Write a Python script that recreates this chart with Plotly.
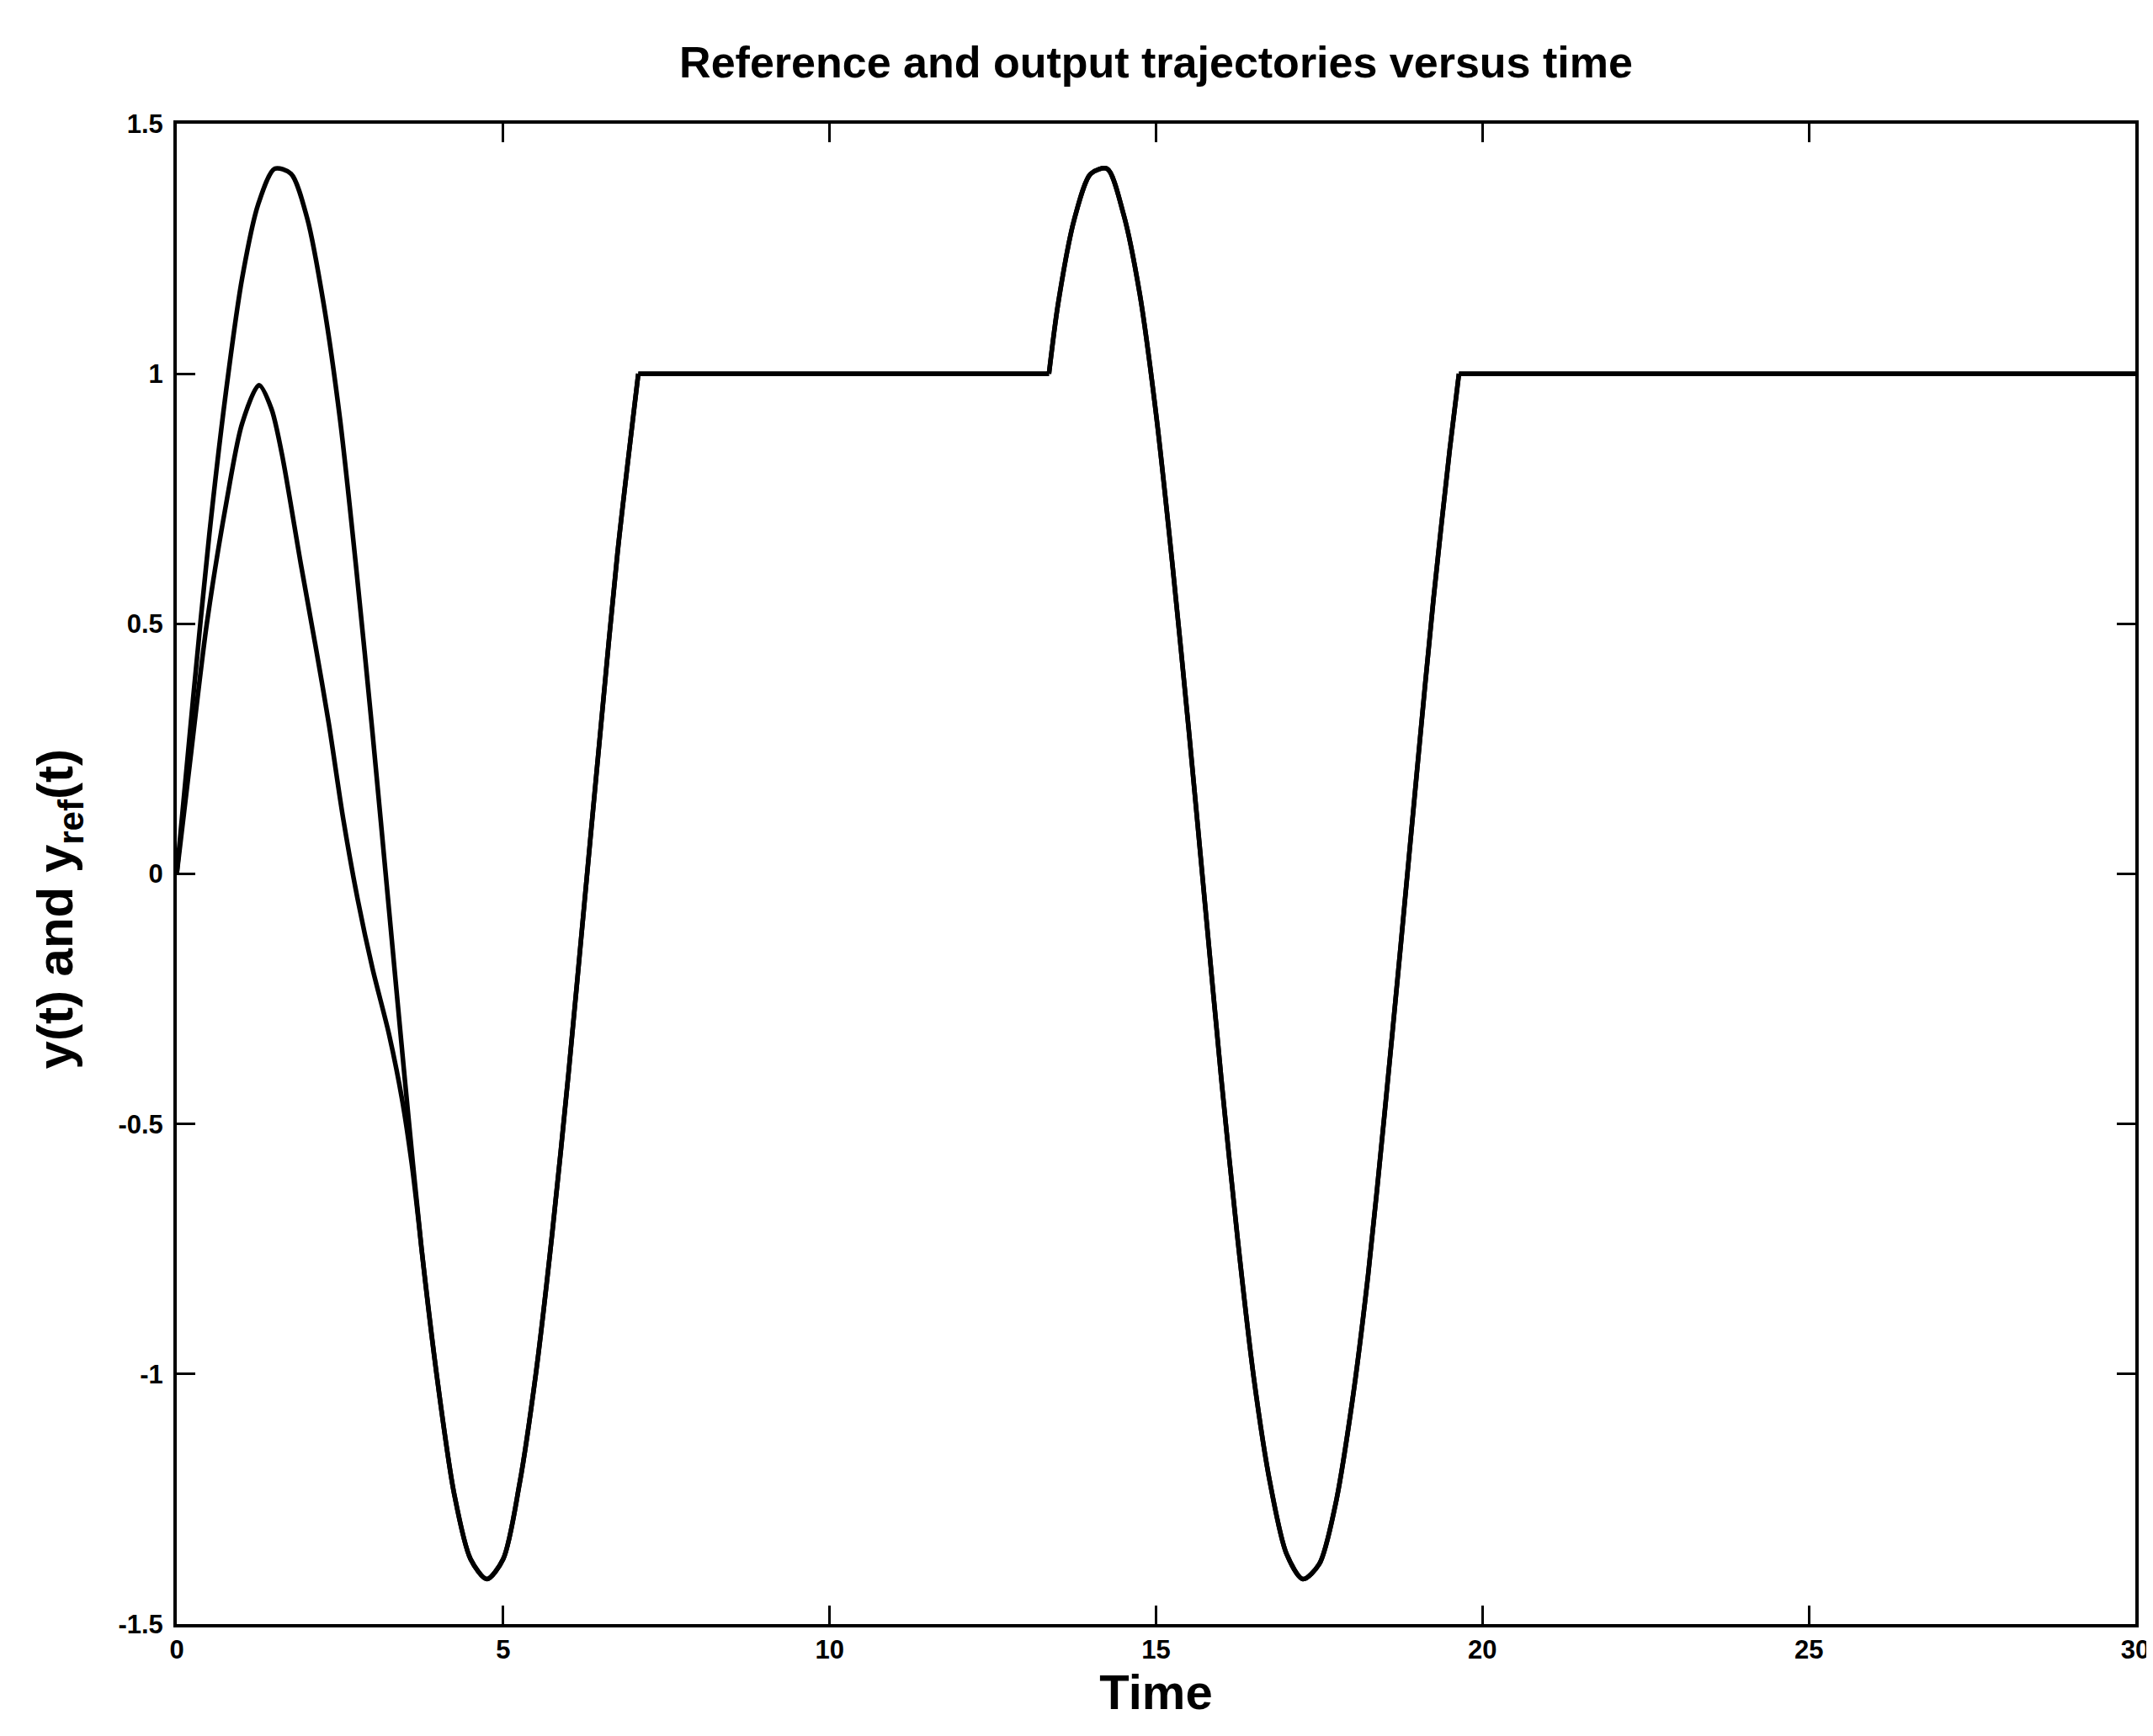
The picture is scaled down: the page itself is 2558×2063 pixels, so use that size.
import plotly.graph_objects as go

# ---- data ----
t_ref = [0, 0.25, 0.5, 0.75, 1.0, 1.25, 1.5, 1.75, 2.0, 2.25, 2.5, 2.75, 3.0, 3.25, 3.5,
         3.75, 4.0, 4.25, 4.5, 4.75, 5.0, 5.25, 5.5, 5.75, 6.0, 6.25, 6.5, 6.75, 7.07,
         13.36, 13.5, 13.75, 14.0, 14.25, 14.5, 14.75, 15.0, 15.25, 15.5, 15.75, 16.0,
         16.25, 16.5, 16.75, 17.0, 17.25, 17.5, 17.75, 18.0, 18.25, 18.5, 18.75, 19.0,
         19.25, 19.5, 19.64, 30]
y_ref = [0, 0.35, 0.68, 0.96, 1.19, 1.34, 1.41, 1.40, 1.31, 1.14, 0.91, 0.61, 0.28, -0.07, -0.42,
         -0.75, -1.02, -1.24, -1.37, -1.41, -1.37, -1.22, -1.00, -0.72, -0.40, -0.05, 0.30, 0.64, 1.00,
         1.00, 1.14, 1.31, 1.40, 1.41, 1.32, 1.16, 0.92, 0.62, 0.29, -0.06, -0.41,
         -0.73, -1.01, -1.22, -1.36, -1.41, -1.38, -1.26, -1.06, -0.80, -0.48, -0.14, 0.21,
         0.55, 0.85, 1.00, 1.00]

t_out = [0, 0.2, 0.46, 0.77, 1.0, 1.26, 1.45, 1.61, 1.9, 2.12, 2.33, 2.55, 2.77, 3.0,
         3.25, 3.45, 3.6, 3.7, 3.75, 4.0, 4.25, 4.5, 4.75, 5.0, 5.25, 5.5, 5.75, 6.0, 6.25,
         6.5, 6.75, 7.07, 13.36, 13.5, 13.75, 14.0, 14.25, 14.5, 14.75, 15.0, 15.25, 15.5,
         15.75, 16.0, 16.25, 16.5, 16.75, 17.0, 17.25, 17.5, 17.75, 18.0, 18.25, 18.5,
         18.75, 19.0, 19.25, 19.5, 19.64, 30]
y_out = [0, 0.22, 0.5, 0.75, 0.9, 0.977, 0.93, 0.84, 0.62, 0.46, 0.30, 0.11, -0.05, -0.19,
         -0.32, -0.45, -0.58, -0.69, -0.75, -1.02, -1.24, -1.37, -1.41, -1.37, -1.22, -1.00,
         -0.72, -0.40, -0.05, 0.30, 0.64, 1.00, 1.00, 1.14, 1.31, 1.40, 1.41, 1.32, 1.16,
         0.92, 0.62, 0.29, -0.06, -0.41, -0.73, -1.01, -1.22, -1.36, -1.41, -1.38, -1.26,
         -1.06, -0.80, -0.48, -0.14, 0.21, 0.55, 0.85, 1.00, 1.00]

x_ticks = [0, 5, 10, 15, 20, 25, 30]
y_ticks = [-1.5, -1, -0.5, 0, 0.5, 1, 1.5]
y_tick_text = ["-1.5", "-1", "-0.5", "0", "0.5", "1", "1.5"]

FONT = "Liberation Sans, Arial, sans-serif"


def split_runs(t, y):
    """Curved parts (drawn smooth) and long flat hold parts (drawn straight)."""
    ct, cy, ft, fy = [], [], [], []
    for i in range(len(t)):
        ct.append(t[i]); cy.append(y[i])
        if i + 1 < len(t) and t[i + 1] - t[i] > 1:
            ft += [t[i], t[i + 1], None]
            fy += [y[i], y[i + 1], None]
            ct.append(None); cy.append(None)
    return ct, cy, ft, fy


fig = go.Figure()
for t, y, nm in [(t_ref, y_ref, "y_ref"), (t_out, y_out, "y")]:
    ct, cy, ft, fy = split_runs(t, y)
    fig.add_trace(go.Scatter(x=ct, y=cy, mode="lines", name=nm, connectgaps=False,
                             line=dict(color="black", width=5.5, shape="spline", smoothing=0.8)))
    fig.add_trace(go.Scatter(x=ft, y=fy, mode="lines", name=nm, connectgaps=False,
                             line=dict(color="black", width=5.5)))

fig.update_layout(
    width=2558, height=2063,
    margin=dict(l=202, r=23, t=139, b=141),
    paper_bgcolor="white", plot_bgcolor="white",
    showlegend=False,
    title=dict(text="<b>Reference and output trajectories versus time</b>",
               x=0.5, xref="paper", y=1 - 66 / 2063, yref="container", yanchor="middle",
               font=dict(family=FONT, size=52, color="black")),
    annotations=[dict(text="<b>y(t) and y<sub>ref</sub>(t)</b>", textangle=-90,
                      x=-0.060, y=0.4767, xref="paper", yref="paper",
                      xanchor="center", yanchor="middle", showarrow=False,
                      font=dict(family=FONT, size=60, color="black"))],
)
fig.update_xaxes(
    range=[0, 30], tickvals=x_ticks, ticktext=[str(v) for v in x_ticks],
    showline=True, linecolor="black", linewidth=4, mirror="ticks",
    ticks="inside", ticklen=22, tickwidth=3, tickcolor="black",
    showgrid=False, zeroline=False,
    tickfont=dict(family=FONT, size=31, color="black", weight="bold"),
    title=dict(text="<b>Time</b>", font=dict(family=FONT, size=58, color="black"), standoff=12),
)
fig.update_yaxes(
    range=[-1.5, 1.5], tickvals=y_ticks, ticktext=y_tick_text,
    showline=True, linecolor="black", linewidth=4, mirror="ticks",
    ticks="inside", ticklen=22, tickwidth=3, tickcolor="black",
    showgrid=False, zeroline=False, ticklabelstandoff=6,
    tickfont=dict(family=FONT, size=31, color="black", weight="bold"),
)

fig.write_html("out.html")
